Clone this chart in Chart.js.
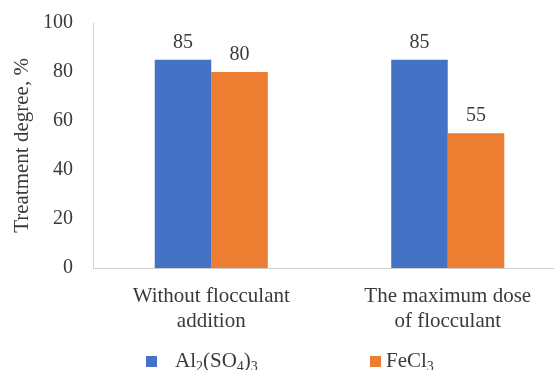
<!DOCTYPE html>
<html>
<head>
<meta charset="utf-8">
<script src="https://cdn.jsdelivr.net/npm/chart.js@4/dist/chart.umd.min.js"></script>
<style>
  html, body { margin: 0; padding: 0; background: #ffffff; overflow: hidden; width: 554px; height: 370px; }
  #wrap { position: absolute; left: 0; top: 0; width: 570px; height: 370px; }
</style>
</head>
<body>
<div id="wrap"><canvas id="c" width="570" height="370"></canvas></div>
<script>
const categories = [["Without flocculant", "addition"], ["The maximum dose", "of flocculant"]];
const seriesNames = ["Al2(SO4)3", "FeCl3"];
const al2so43 = [85, 85];
const fecl3 = [80, 55];
const yTicks = [0, 20, 40, 60, 80, 100];
const yTitle = "Treatment degree, %";

const colors = ["#4472C4", "#ED7D31"];
const textColor = "#3a3a3a";
const serif = "'Liberation Serif', 'Times New Roman', serif";

function drawChem(ctx, text, x, y, size) {
  let cx = x;
  for (const ch of text) {
    if (/[0-9]/.test(ch)) {
      ctx.font = Math.round(size * 0.68) + "px " + serif;
      ctx.fillText(ch, cx, y + size * 0.18);
      cx += ctx.measureText(ch).width;
    } else {
      ctx.font = size + "px " + serif;
      ctx.fillText(ch, cx, y);
      cx += ctx.measureText(ch).width;
    }
  }
}

const valueLabels = {
  id: "valueLabels",
  afterDatasetsDraw(chart) {
    const ctx = chart.ctx;
    ctx.save();
    ctx.fillStyle = textColor;
    ctx.font = "20px " + serif;
    ctx.textAlign = "center";
    ctx.textBaseline = "alphabetic";
    chart.data.datasets.forEach((ds, di) => {
      chart.getDatasetMeta(di).data.forEach((bar, i) => {
        ctx.fillText(String(ds.data[i]), bar.x, bar.y - 12);
      });
    });
    ctx.restore();
  }
};

const customLegend = {
  id: "customLegend",
  afterDraw(chart) {
    const ctx = chart.ctx;
    const items = [{ box: 146, text: 175 }, { box: 370, text: 386 }];
    ctx.save();
    ctx.textBaseline = "alphabetic";
    ctx.textAlign = "left";
    chart.data.datasets.forEach((ds, i) => {
      ctx.fillStyle = ds.backgroundColor;
      ctx.fillRect(items[i].box, 356, 11, 11);
      ctx.fillStyle = textColor;
      drawChem(ctx, ds.label, items[i].text, 367, 21);
    });
    ctx.restore();
  }
};

function build() {
  new Chart(document.getElementById("c"), {
    type: "bar",
    data: {
      labels: categories,
      datasets: [
        { label: seriesNames[0], data: al2so43, backgroundColor: colors[0] },
        { label: seriesNames[1], data: fecl3, backgroundColor: colors[1] }
      ]
    },
    options: {
      responsive: false,
      maintainAspectRatio: false,
      animation: false,
      devicePixelRatio: 1,
      layout: { padding: { top: 23, right: 4, bottom: 0, left: 0 }, autoPadding: false },
      datasets: { bar: { barPercentage: 1.0, categoryPercentage: 0.478 } },
      plugins: { legend: { display: false }, tooltip: { enabled: false } },
      scales: {
        x: {
          grid: { display: false, drawTicks: false },
          border: { display: true, color: "#d0d0d0", width: 1 },
          ticks: { color: textColor, font: { family: serif, size: 21, lineHeight: 1.2 }, padding: 16, maxRotation: 0 },
          afterFit(s) { s.height = 102; s.paddingTop = 0; s.paddingBottom = 0; }
        },
        y: {
          min: 0, max: 100,
          afterBuildTicks(s) { s.ticks = yTicks.map(v => ({ value: v })); },
          grid: { display: false, drawTicks: false },
          border: { display: true, color: "#d0d0d0", width: 1 },
          ticks: { color: textColor, font: { family: serif, size: 20 }, padding: 20 },
          title: { display: true, text: yTitle, color: textColor, font: { family: serif, size: 21 }, padding: { top: 10, bottom: 0 } },
          afterFit(s) { s.width = 93; s.paddingTop = 0; s.paddingBottom = 0; }
        }
      }
    },
    plugins: [valueLabels, customLegend]
  });
}

Promise.all([
  document.fonts.load("20px 'Liberation Serif'"),
  document.fonts.load("14px 'Liberation Serif'")
]).then(build, build);
</script>
</body>
</html>
